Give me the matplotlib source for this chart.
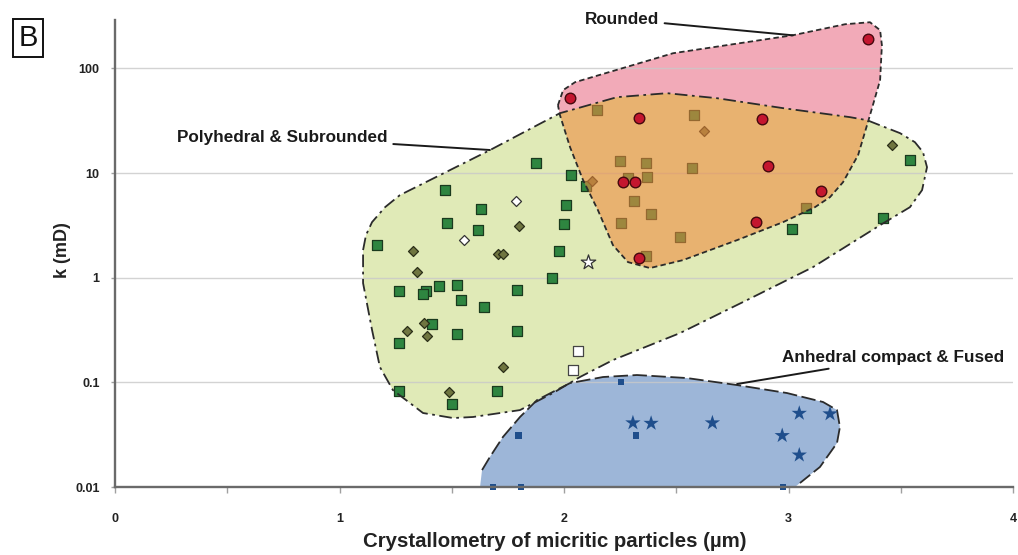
import numpy as np
import matplotlib
matplotlib.use('Agg')
import matplotlib.pyplot as plt
from matplotlib.patches import Polygon
from matplotlib.ticker import NullLocator

plt.rcParams['font.family'] = ['Liberation Sans', 'DejaVu Sans']

# ---------------- data ----------------
# Polyhedral & Subrounded: filled green squares
sq_x = [1.877, 2.031, 2.097, 1.470, 1.632, 2.010, 1.477, 1.618, 2.001, 1.166,
        1.978, 1.948, 1.265, 1.385, 1.373, 1.442, 1.522, 1.789, 1.541, 1.645,
        1.412, 1.525, 1.789, 1.267, 1.265, 1.702, 1.500,
        2.148, 2.579, 2.249, 2.364, 2.572, 2.368, 2.283, 2.310, 2.388, 2.254,
        2.517, 2.367, 3.079, 3.014, 3.422, 3.541]
sq_k = [12.5, 9.5, 7.5, 6.9, 4.5, 5.0, 3.3, 2.85, 3.25, 2.05,
        1.8, 0.99, 0.74, 0.75, 0.70, 0.83, 0.85, 0.76, 0.61, 0.53,
        0.365, 0.29, 0.31, 0.24, 0.083, 0.083, 0.062,
        40, 35.5, 13, 12.6, 11.1, 9.1, 8.9, 5.4, 4.07, 3.3,
        2.46, 1.6, 4.66, 2.91, 3.73, 13.3]

# filled olive diamonds
dia_x = [1.801, 1.329, 1.705, 1.730, 1.347, 1.376, 1.300, 1.388, 1.728, 1.486,
         2.126, 2.622, 3.461]
dia_k = [3.1, 1.8, 1.67, 1.67, 1.14, 0.37, 0.31, 0.28, 0.139, 0.081,
         8.4, 25, 18.5]

# open symbols
odia_x = [1.785, 1.556]
odia_k = [5.4, 2.29]
osq_x = [2.061, 2.040]
osq_k = [0.20, 0.131]
ostar_x = [2.108]
ostar_k = [1.42]

# Rounded: red circles
rd_x = [2.027, 2.334, 2.884, 2.907, 2.264, 2.318, 3.145, 2.857, 2.334, 3.353]
rd_k = [52, 33.6, 32.7, 11.8, 8.2, 8.2, 6.7, 3.42, 1.55, 190]

# Anhedral compact & Fused: blue squares and stars
bsq_x = [2.254, 1.797, 2.319, 1.685, 1.807, 2.977]
bsq_k = [0.10, 0.031, 0.031, 0.01, 0.01, 0.01]
bst_x = [2.307, 2.388, 2.661, 2.972, 3.048, 3.185, 3.048]
bst_k = [0.041, 0.0406, 0.041, 0.031, 0.0506, 0.050, 0.0202]

# field outlines (x, log10 k)
green_x = [1.105, 1.118, 1.145, 1.203, 1.269, 1.670, 1.982, 2.236, 2.459, 2.682,
           2.976, 3.274, 3.350, 3.497, 3.563, 3.599, 3.617, 3.595, 3.541, 3.408,
           3.109, 2.815, 2.517, 2.218, 2.071, 1.951, 1.804, 1.595, 1.506, 1.372,
           1.238, 1.180, 1.145, 1.105]
green_lk = [0.264, 0.407, 0.531, 0.674, 0.789, 1.219, 1.572, 1.725, 1.763, 1.715,
            1.620, 1.534, 1.505, 1.381, 1.295, 1.200, 1.056, 0.837, 0.674, 0.502,
            0.101, -0.214, -0.529, -0.787, -0.949, -1.102, -1.265, -1.331, -1.341, -1.293,
            -1.074, -0.854, -0.500, -0.052]

pink_x = [1.973, 1.996, 2.049, 2.486, 3.020, 3.252, 3.363, 3.408, 3.416, 3.408,
          3.363, 3.310, 3.243, 3.185, 3.118, 2.976, 2.771, 2.530, 2.383, 2.285,
          2.218, 2.151, 2.085, 2.027, 1.982]
pink_lk = [1.648, 1.792, 1.868, 2.145, 2.317, 2.422, 2.441, 2.365, 2.222, 1.887,
           1.553, 1.171, 0.913, 0.770, 0.674, 0.531, 0.359, 0.168, 0.092, 0.149,
           0.311, 0.646, 0.932, 1.247, 1.553]

blue_x = [1.626, 1.635, 1.670, 1.728, 1.804, 1.880, 2.027, 2.174, 2.325, 2.548,
          2.771, 2.993, 3.154, 3.216, 3.229, 3.216, 3.140, 3.051, 3.029]
blue_lk = [-2.0, -1.838, -1.713, -1.522, -1.331, -1.169, -1.007, -0.949, -0.930, -0.959,
           -1.026, -1.102, -1.188, -1.265, -1.427, -1.580, -1.809, -1.962, -2.0]

x_ticks = [0, 0.5, 1, 1.5, 2, 2.5, 3, 3.5, 4]
x_tick_labels = ['0', '', '1', '', '2', '', '3', '', '4']
y_ticks = [0.01, 0.1, 1, 10, 100]
y_tick_labels = ['0.01', '0.1', '1', '10', '100']

# ---------------- figure ----------------
fig = plt.figure(figsize=(10.18, 5.55), dpi=100)
ax = fig.add_axes([115 / 1018, 1 - 487 / 555, 898 / 1018, 467 / 555])
ax.set_yscale('log')
ax.set_xlim(0, 4)
ax.set_ylim(0.01, 290)


def pts(xs, lks):
    return np.column_stack([xs, 10 ** np.asarray(lks)])


outline = '#2b2b2b'
pink_poly = Polygon(pts(pink_x, pink_lk), closed=True, fc='#f2aab8', ec='none', zorder=1)
green_poly = Polygon(pts(green_x, green_lk), closed=True, fc='#e0eab7', ec='none', zorder=1.1)
blue_poly = Polygon(pts(blue_x, blue_lk), closed=True, fc='#9db6d8', ec='none', zorder=1.2)
for p in (pink_poly, green_poly, blue_poly):
    ax.add_patch(p)

for t in y_ticks[1:]:
    ax.axhline(t, color='#c9c9c9', lw=1.0, alpha=0.8, zorder=1.5)

# green field markers
ax.scatter(sq_x, sq_k, marker='s', s=46, c='#2e8540', edgecolors='#1a3a1e', linewidths=0.9, zorder=3)
ax.scatter(dia_x, dia_k, marker='D', s=26, c='#6f7540', edgecolors='#2a2e18', linewidths=0.9, zorder=3)
ax.scatter(odia_x, odia_k, marker='D', s=26, c='white', edgecolors='#333333', linewidths=0.9, zorder=3)
ax.scatter(osq_x, osq_k, marker='s', s=46, c='white', edgecolors='#444444', linewidths=0.9, zorder=3)
ax.scatter(ostar_x, ostar_k, marker='*', s=120, c='white', edgecolors='#333333', linewidths=0.9, zorder=3)

# overlap area (rounded field over the green field)
over = Polygon(pts(pink_x, pink_lk), closed=True, fc='#ee8a3e', ec='none', alpha=0.58, zorder=4)
ax.add_patch(over)
over.set_clip_path(green_poly)

# outlines
gp = pts(green_x, green_lk)
ax.plot(np.append(gp[:, 0], gp[0, 0]), np.append(gp[:, 1], gp[0, 1]), color=outline, lw=1.3,
        ls=(0, (7, 2.5, 1.5, 2.5)), zorder=5)
pp = pts(pink_x, pink_lk)
ax.plot(np.append(pp[:, 0], pp[0, 0]), np.append(pp[:, 1], pp[0, 1]), color=outline, lw=1.3,
        ls=(0, (3, 1.8)), zorder=5)
bp = pts(blue_x, blue_lk)
ax.plot(bp[1:-1, 0], bp[1:-1, 1], color=outline, lw=1.3, ls=(0, (8, 2.5)), zorder=5)

# red and blue markers
ax.scatter(rd_x, rd_k, marker='o', s=58, c='#c4162f', edgecolors='#45080e', linewidths=1.0, zorder=6,
           clip_on=False)
ax.scatter(bsq_x, bsq_k, marker='s', s=20, c='#1f4e8c', edgecolors='none', zorder=6, clip_on=False)
ax.scatter(bst_x, bst_k, marker='*', s=135, c='#1f4e8c', edgecolors='none', zorder=6, clip_on=False)

# annotations
ann_kw = dict(fontsize=12.3, fontweight='bold', color='#1a1a1a', ha='center', va='center',
              annotation_clip=False, zorder=7)
arrow = dict(arrowstyle='-', color='#1a1a1a', lw=1.4, shrinkA=2, shrinkB=0)
ax.annotate('Rounded', xy=(3.02, 207), xytext=(2.258, 295), arrowprops=arrow, **ann_kw)
ax.annotate('Polyhedral & Subrounded', xy=(1.670, 16.6), xytext=(0.746, 22), arrowprops=arrow, **ann_kw)
ax.annotate('Anhedral compact & Fused', xy=(2.771, 0.0964), xytext=(3.465, 0.171), arrowprops=arrow, **ann_kw)

# axes styling
for side in ('top', 'right'):
    ax.spines[side].set_visible(False)
for side in ('left', 'bottom'):
    ax.spines[side].set_color('#6a6a6a')
    ax.spines[side].set_linewidth(1.7)
    ax.spines[side].set_zorder(8)

ax.set_xticks(x_ticks)
ax.set_xticklabels(x_tick_labels, fontsize=9, fontweight='bold', color='#222222')
ax.set_yticks(y_ticks)
ax.set_yticklabels(y_tick_labels, fontsize=9, fontweight='bold', color='#222222')
ax.yaxis.set_minor_locator(NullLocator())
ax.xaxis.set_minor_locator(NullLocator())
ax.tick_params(axis='x', length=4, width=1, color='#a0a0a0', pad=15)
ax.tick_params(axis='y', length=3, width=1, color='#a0a0a0', pad=8)

ax.set_xlabel('Crystallometry of micritic particles (µm)', fontsize=14.7, fontweight='bold', color='#222222')
ax.xaxis.label.set_va('center')
ax.xaxis.set_label_coords(0.49, -0.116)
ax.set_ylabel('k (mD)', fontsize=13, fontweight='bold', color='#222222')
ax.yaxis.label.set_va('center')
ax.yaxis.set_label_coords(-0.059, 0.507)

fig.text(28 / 1018, 1 - 38 / 555, 'B', fontsize=21, ha='center', va='center', color='#111111',
         bbox=dict(boxstyle='square,pad=0.18', fc='white', ec='#111111', lw=1.4))

fig.savefig('out.png', dpi=100)
